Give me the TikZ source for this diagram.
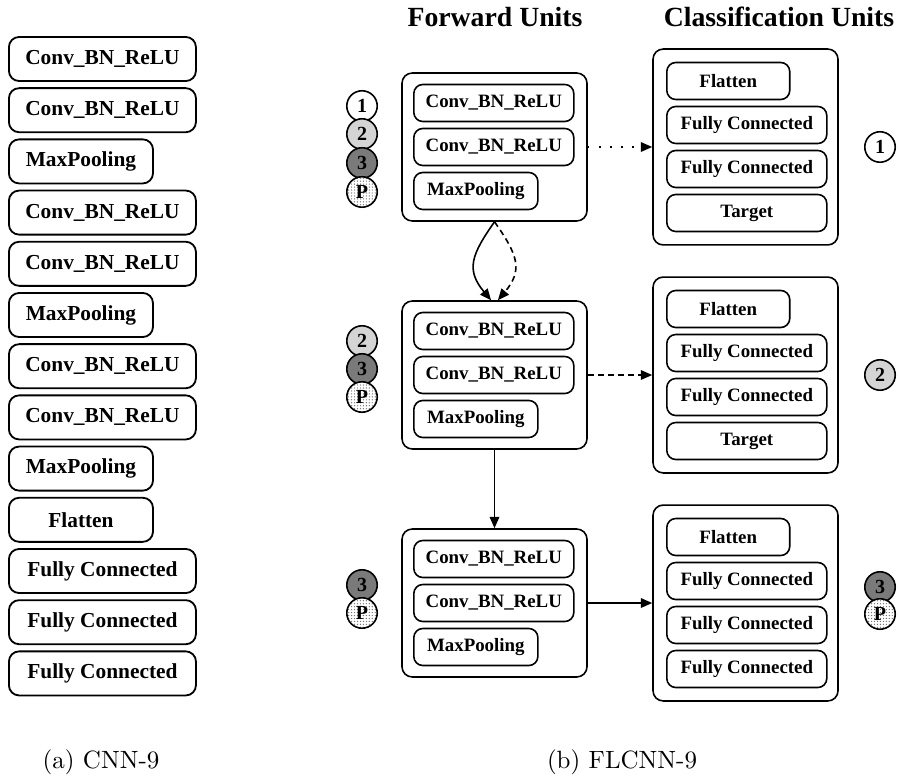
\documentclass[tikz,border=0pt]{standalone}
\usepackage{fontspec}
\setmainfont{Liberation Serif}
\newfontfamily\capfont{Latin Modern Roman}
\usetikzlibrary{arrows.meta,patterns.meta}

\begin{document}
\begin{tikzpicture}[x=0.44pt,y=-0.44pt,
  layer/.style={draw,line width=0.8pt,rounded corners=4.5pt,minimum height=19.4pt,inner sep=0pt,font=\fontsize{9.4}{11}\selectfont\bfseries},
  unit/.style={draw,line width=0.7pt,rounded corners=4.5pt,inner sep=0pt},
  sub/.style={draw,line width=0.7pt,rounded corners=4pt,minimum height=16.3pt,inner sep=0pt,font=\fontsize{8.3}{10}\selectfont\bfseries},
  ball/.style={draw,circle,line width=0.7pt,minimum size=13.4pt,inner sep=0pt,font=\fontsize{8.8}{10}\selectfont\bfseries},
  one/.style={ball,fill=white},
  two/.style={ball,fill=black!17},
  three/.style={ball,fill=black!52},
  pool/.style={ball,preaction={fill=white},pattern={Dots[distance=1.3pt,radius=0.3pt]},pattern color=black!55},
  tip/.style={line width=0.7pt,-{Triangle[length=5pt,width=4.2pt]}}]
\useasboundingbox (0,0) rectangle (899,778);

% (a) plain network
\foreach \t/\w [count=\i] in {Conv\_BN\_ReLU/82.3,Conv\_BN\_ReLU/82.3,MaxPooling/63.4,
  Conv\_BN\_ReLU/82.3,Conv\_BN\_ReLU/82.3,MaxPooling/63.4,Conv\_BN\_ReLU/82.3,
  Conv\_BN\_ReLU/82.3,MaxPooling/63.4,Flatten/63.4,Fully Connected/82.3,
  Fully Connected/82.3,Fully Connected/82.3}
  \node[layer,minimum width=\w pt,anchor=west] (l\i) at (8,{59+51.2*(\i-1)}) {\t};

\node[font=\fontsize{12.2}{14}\selectfont\bfseries] (hf) at (495,17) {Forward Units};
\node[font=\fontsize{12.2}{14}\selectfont\bfseries] (hc) at (779,17) {Classification Units};

% forward units
\foreach \y [count=\i] in {147,375,603}{
  \node[unit,minimum width=81.4pt,minimum height=65.1pt] (f\i) at (494.5,\y) {};
  \node[sub,minimum width=70.4pt,anchor=west] (f\i-a) at (413,\y-44) {Conv\_BN\_ReLU};
  \node[sub,minimum width=70.4pt,anchor=west] (f\i-b) at (413,\y) {Conv\_BN\_ReLU};
  \node[sub,minimum width=54.6pt,anchor=west] (f\i-c) at (413,\y+44) {MaxPooling};
}

% classification units
\foreach \y/\last [count=\i] in {147/Target,375/Target,603/Fully Connected}{
  \node[unit,minimum width=81.4pt,minimum height=86.2pt] (c\i) at (745.5,\y) {};
  \node[sub,minimum width=54.1pt,anchor=west] (c\i-a) at (666,\y-66) {Flatten};
  \node[sub,minimum width=70.4pt,anchor=west] (c\i-b) at (666,\y-22) {Fully Connected};
  \node[sub,minimum width=70.4pt,anchor=west] (c\i-c) at (666,\y+22) {Fully Connected};
  \node[sub,minimum width=70.4pt,anchor=west] (c\i-d) at (666,\y+66) {\last};
}

\draw[tip,dash pattern=on 0.7pt off 4.2pt] (f1.east) -- (c1.west);
\draw[tip,dash pattern=on 2.6pt off 1.8pt] (f2.east) -- (c2.west);
\draw[tip] (f3.east) -- (c3.west);

\draw[tip] (f1.south) to[out=235,in=130,looseness=1.3] ([xshift=-1.5pt]f2.north);
\draw[tip,dash pattern=on 2.6pt off 1.8pt] (f1.south) to[out=-55,in=50,looseness=1.3] ([xshift=1.5pt]f2.north);
\draw[tip] (f2.south) -- (f3.north);

% markers
\node[one] (m1) at (362,106) {1};
\node[two] (m2) at (362,134) {2};
\node[three] (m3) at (362,163) {3};
\node[pool] (m4) at (362,192) {P};
\node[two] (n2) at (362,341) {2};
\node[three] (n3) at (362,369) {3};
\node[pool] (n4) at (362,397) {P};
\node[three] (o3) at (362,585) {3};
\node[pool] (o4) at (362,613) {P};

\node[one] (r1) at (880,147) {1};
\node[two] (r2) at (880,375) {2};
\node[three] (r3) at (880,587) {3};
\node[pool] (r4) at (880,614) {P};

\node[font=\capfont\fontsize{11}{13}\selectfont] (capa) at (101,762) {(a) CNN-9};
\node[font=\capfont\fontsize{11}{13}\selectfont] (capb) at (622,762) {(b) FLCNN-9};
\end{tikzpicture}
\end{document}
